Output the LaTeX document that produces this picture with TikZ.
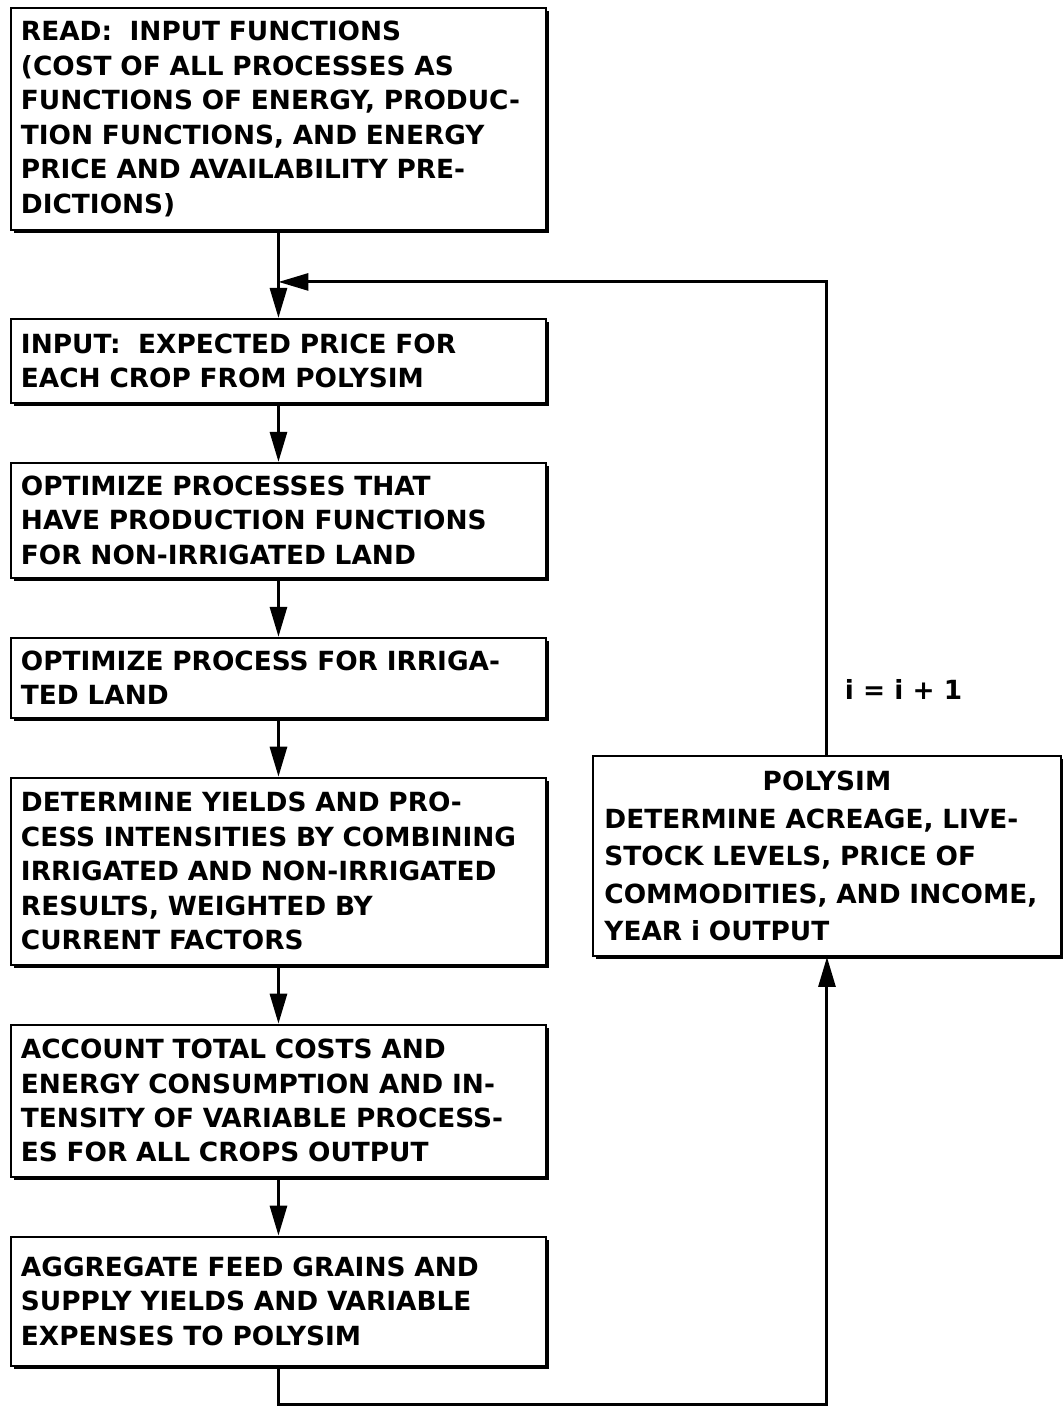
\documentclass[tikz,border=0pt]{standalone}
\usepackage{fontspec}
\setmainfont{DejaVu Sans}
\usetikzlibrary{shapes, arrows.meta, positioning, shadows}

\begin{document}
\begin{tikzpicture}[
    node distance=1.16cm,
    every node/.style={font=\fontsize{15}{19.6}\selectfont\bfseries},
    box/.style={rectangle, draw=black, line width=1.1pt, align=left, fill=white,
                text width=10.3cm, inner xsep=0.2cm, inner ysep=0.1cm,
                drop shadow={shadow xshift=0.07cm, shadow yshift=-0.07cm,
                             fill=black, opacity=1}},
    arrow/.style={-{Triangle[length=0.6cm, width=0.34cm]}, line width=1.7pt}
]
\useasboundingbox (0,0) rectangle (21.24,-28.2);
\node[box, minimum height=4.44cm, anchor=north west] (read) at (0.2,-0.14)
    {READ:\ \ INPUT FUNCTIONS\\(COST OF ALL PROCESSES AS\\FUNCTIONS OF ENERGY, PRODUC-\\TION FUNCTIONS, AND ENERGY\\PRICE AND AVAILABILITY PRE-\\DICTIONS)};
\node[box, minimum height=1.68cm, below=1.74cm of read] (inp)
    {INPUT:\ \ EXPECTED PRICE FOR\\EACH CROP FROM POLYSIM};
\node[box, minimum height=2.3cm, below=of inp] (nonirr)
    {OPTIMIZE PROCESSES THAT\\HAVE PRODUCTION FUNCTIONS\\FOR NON-IRRIGATED LAND};
\node[box, minimum height=1.6cm, below=of nonirr] (irr)
    {OPTIMIZE PROCESS FOR IRRIGA-\\TED LAND};
\node[box, minimum height=3.74cm, below=of irr] (yields)
    {DETERMINE YIELDS AND PRO-\\CESS INTENSITIES BY COMBINING\\IRRIGATED AND NON-IRRIGATED\\RESULTS, WEIGHTED BY\\CURRENT FACTORS};
\node[box, minimum height=3.04cm, below=of yields] (costs)
    {ACCOUNT TOTAL COSTS AND\\ENERGY CONSUMPTION AND IN-\\TENSITY OF VARIABLE PROCESS-\\ES FOR ALL CROPS OUTPUT};
\node[box, minimum height=2.58cm, below=of costs] (agg)
    {AGGREGATE FEED GRAINS AND\\SUPPLY YIELDS AND VARIABLE\\EXPENSES TO POLYSIM};
\node[box, text width=8.9cm, inner xsep=0.23cm, minimum height=4.0cm,
      font=\fontsize{15}{21.3}\selectfont\bfseries,
      anchor=north west] (poly) at (11.84,-15.1)
    {\makebox[\linewidth]{POLYSIM}\\DETERMINE ACREAGE, LIVE-\\STOCK LEVELS, PRICE OF\\COMMODITIES, AND INCOME,\\YEAR i OUTPUT};
\node[above right=1.1cm and 0.35cm of poly.north, inner sep=0pt] (incr) {i = i + 1};
\coordinate[below=1.02cm of read.south] (merge);
\coordinate[below=0.76cm of agg.south] (low);
\draw[arrow] (read) -- (inp);
\draw[arrow] (inp) -- (nonirr);
\draw[arrow] (nonirr) -- (irr);
\draw[arrow] (irr) -- (yields);
\draw[arrow] (yields) -- (costs);
\draw[arrow] (costs) -- (agg);
\draw[arrow] (agg) -- (low) -| (poly);
\draw[arrow] (poly) |- (merge);
\end{tikzpicture}
\end{document}
